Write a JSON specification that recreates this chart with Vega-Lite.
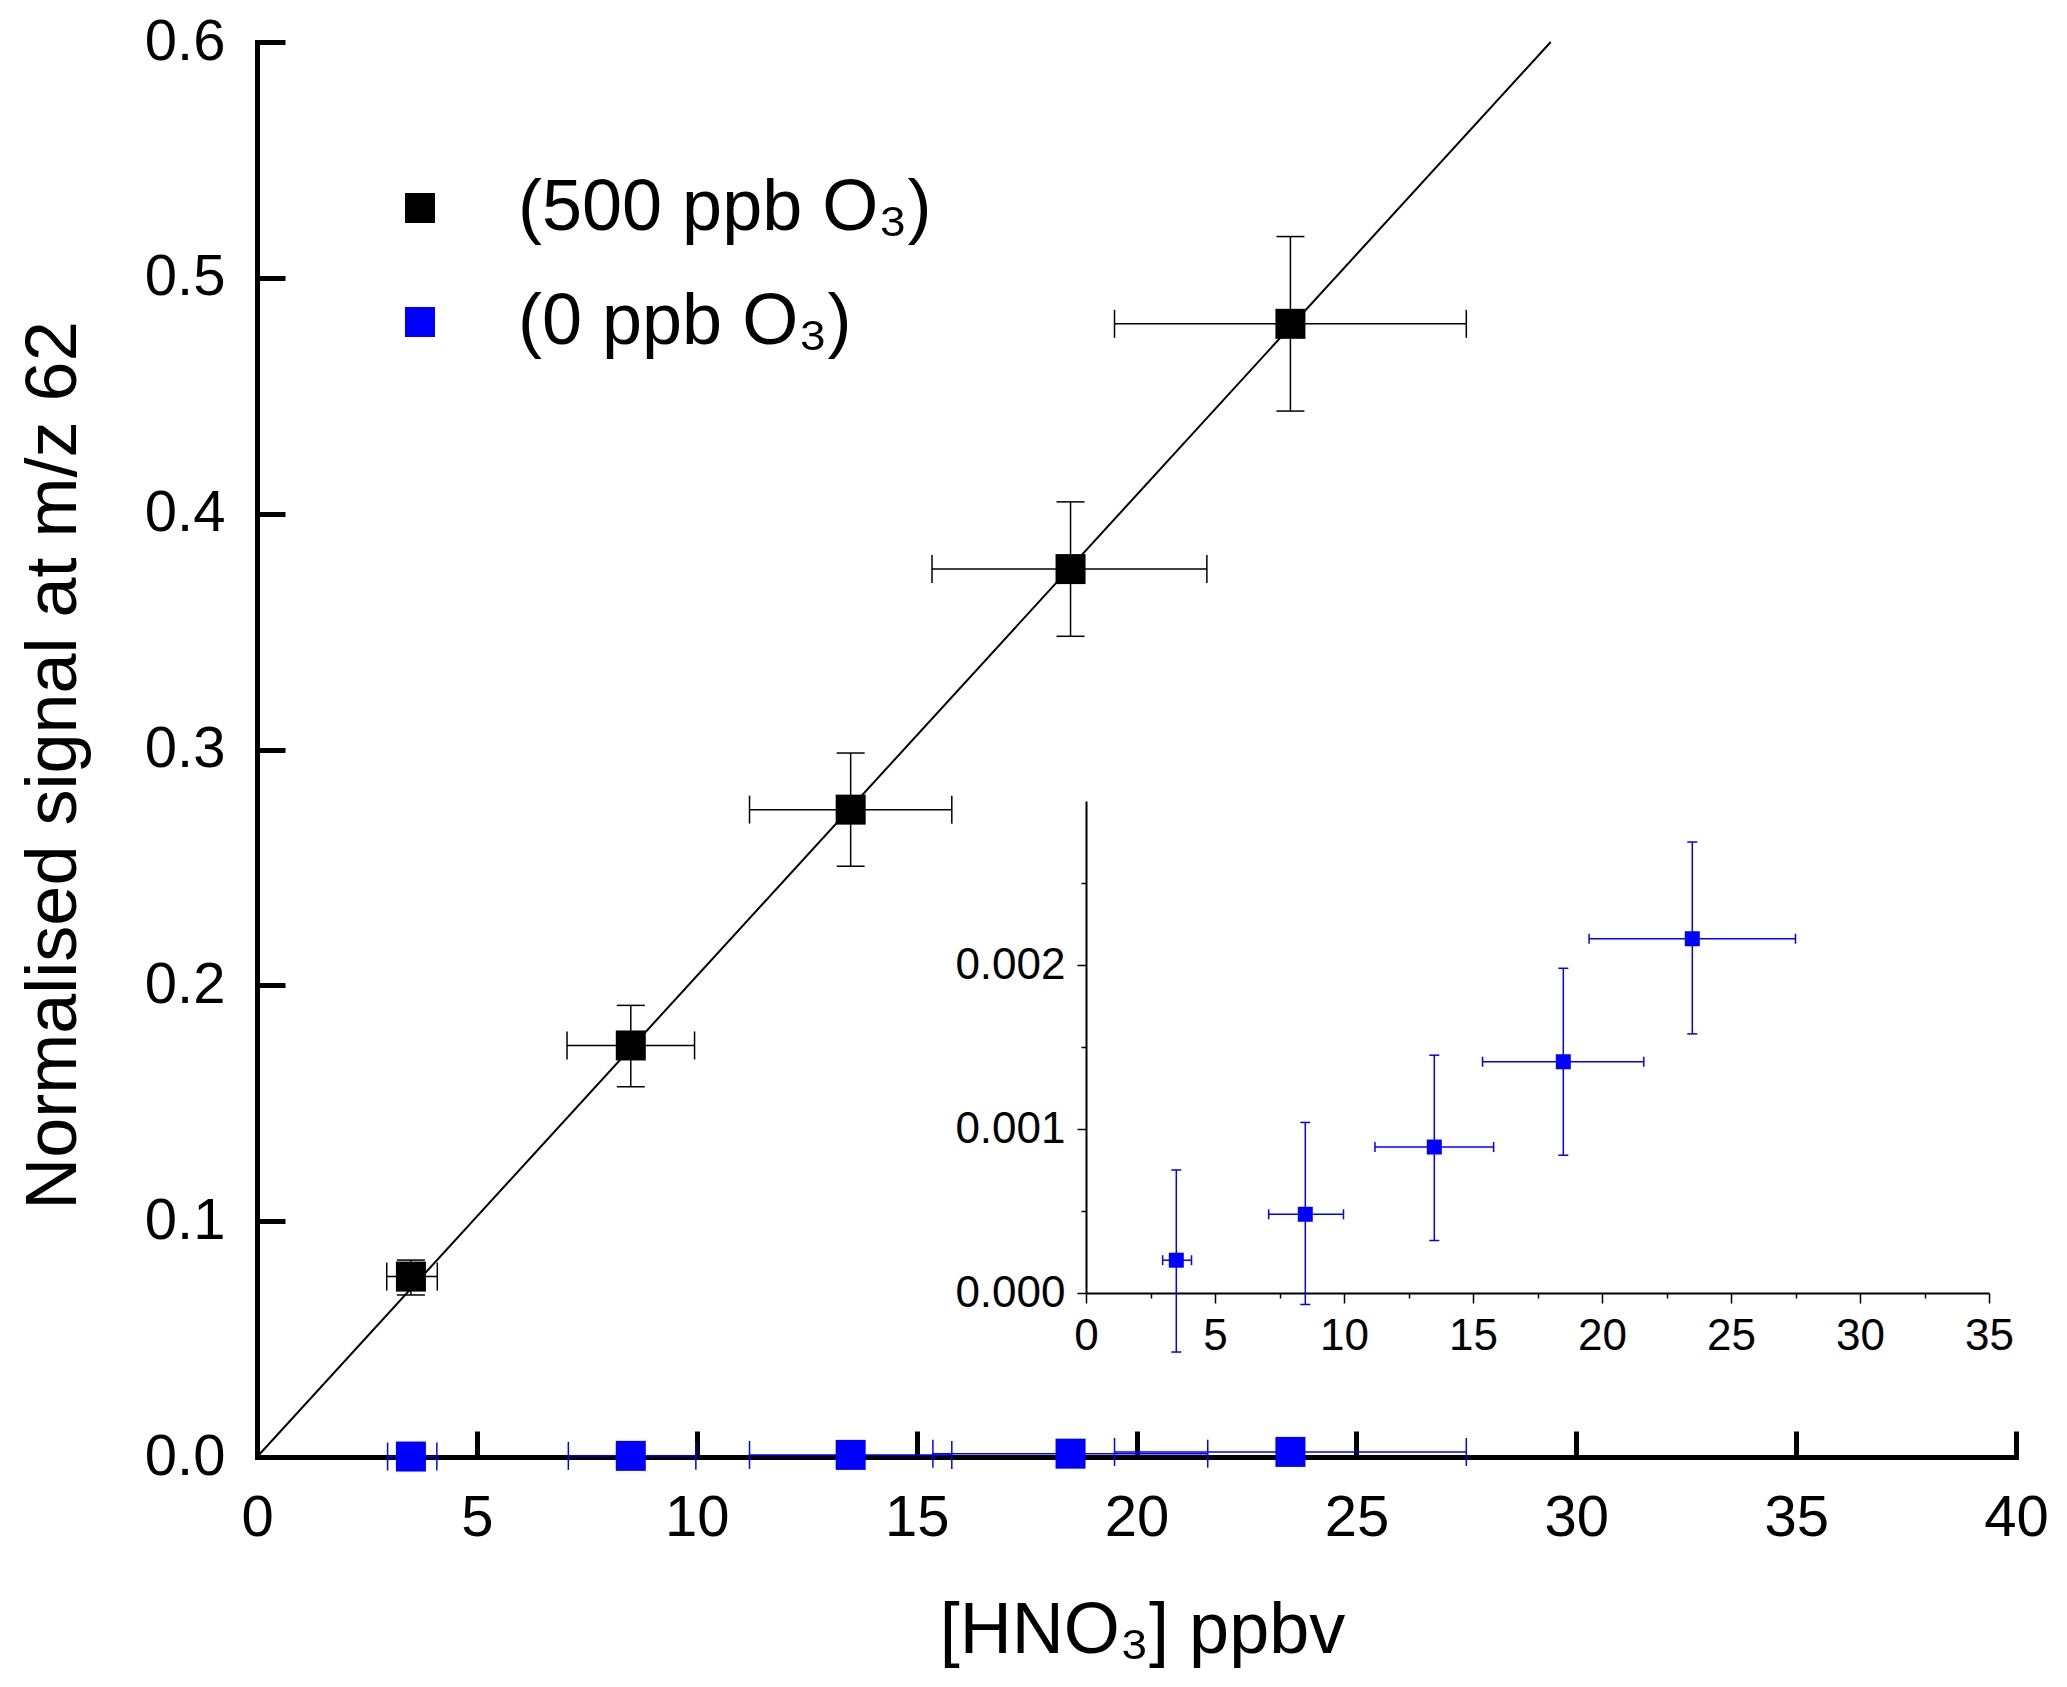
{
  "$schema": "https://vega.github.io/schema/vega-lite/v6.json",
  "description": "Normalised m/z 62 signal against HNO3 mixing ratio, with inset for the 0 ppb O3 series.",
  "width": 1759,
  "height": 1415,
  "autosize": {"type": "none"},
  "padding": {"left": 257, "top": 42, "right": 51, "bottom": 230},
  "background": "white",
  "config": {
    "font": "Liberation Sans",
    "view": {"stroke": null},
    "axis": {
      "grid": false,
      "labelFont": "Liberation Sans",
      "titleFont": "Liberation Sans",
      "labelColor": "black",
      "titleColor": "black",
      "tickColor": "black",
      "domainColor": "black",
      "titleFontWeight": "normal"
    },
    "legend": {"labelFont": "Liberation Sans", "labelColor": "black"}
  },
  "datasets": {
    "points": [
      {"series": "(500 ppb O₃)", "x": 3.5, "y": 0.0765, "xlo": 2.95, "xhi": 4.1, "ylo": 0.0687, "yhi": 0.0835},
      {"series": "(500 ppb O₃)", "x": 8.5, "y": 0.1745, "xlo": 7.05, "xhi": 9.95, "ylo": 0.157, "yhi": 0.1915},
      {"series": "(500 ppb O₃)", "x": 13.5, "y": 0.2745, "xlo": 11.2, "xhi": 15.8, "ylo": 0.2505, "yhi": 0.2985},
      {"series": "(500 ppb O₃)", "x": 18.5, "y": 0.3765, "xlo": 15.35, "xhi": 21.6, "ylo": 0.348, "yhi": 0.405},
      {"series": "(500 ppb O₃)", "x": 23.5, "y": 0.4805, "xlo": 19.5, "xhi": 27.5, "ylo": 0.4435, "yhi": 0.5175},
      {"series": "(0 ppb O₃)", "x": 3.5, "y": 0.0002, "xlo": 2.97, "xhi": 4.09, "ylo": -0.00036, "yhi": 0.00075},
      {"series": "(0 ppb O₃)", "x": 8.5, "y": 0.00048, "xlo": 7.08, "xhi": 9.98, "ylo": -0.00007, "yhi": 0.00104},
      {"series": "(0 ppb O₃)", "x": 13.5, "y": 0.00089, "xlo": 11.2, "xhi": 15.8, "ylo": 0.00032, "yhi": 0.00145},
      {"series": "(0 ppb O₃)", "x": 18.5, "y": 0.00141, "xlo": 15.37, "xhi": 21.62, "ylo": 0.00084, "yhi": 0.00198},
      {"series": "(0 ppb O₃)", "x": 23.5, "y": 0.00216, "xlo": 19.5, "xhi": 27.5, "ylo": 0.00158, "yhi": 0.00275}
    ],
    "fit": [
      {"x": 0, "y": 0},
      {"x": 29.42, "y": 0.6}
    ]
  },
  "layer": [
    {
      "layer": [
        {
          "data": {"name": "fit"},
          "mark": {"type": "line", "color": "black", "strokeWidth": 2},
          "encoding": {
            "x": {
              "field": "x", "type": "quantitative",
              "scale": {"domain": [0, 40], "nice": false, "zero": false},
              "axis": {
                "orient": "bottom",
                "values": [0, 5, 10, 15, 20, 25, 30, 35, 40],
                "format": "d",
                "labelFontSize": 58,
                "labelFlush": false,
                "labelOverlap": false,
                "tickSize": -26,
                "tickWidth": 5,
                "domainWidth": 5,
                "domainCap": "square",
                "labelPadding": 58,
                "title": "[HNO₃] ppbv",
                "titleFontSize": 72,
                "titleX": 885,
                "titleY": 195,
                "titleAlign": "center",
                "titleBaseline": "alphabetic"
              }
            },
            "y": {
              "field": "y", "type": "quantitative",
              "scale": {"domain": [0, 0.6], "nice": false, "zero": false},
              "axis": {
                "orient": "left",
                "values": [0, 0.1, 0.2, 0.3, 0.4, 0.5, 0.6],
                "format": ".1f",
                "labelFontSize": 58,
                "labelOverlap": false,
                "tickSize": -28,
                "tickWidth": 5,
                "domainWidth": 5,
                "domainCap": "square",
                "labelPadding": 60,
                "title": "Normalised signal at m/z 62",
                "titleFontSize": 72,
                "titleAngle": -90,
                "titleX": -182,
                "titleY": 723,
                "titleAlign": "center",
                "titleBaseline": "alphabetic"
              }
            }
          }
        },
        {
          "data": {"name": "points"},
          "mark": {"type": "rule", "strokeWidth": 1.5},
          "encoding": {
            "x": {"field": "xlo", "type": "quantitative"},
            "x2": {"field": "xhi"},
            "y": {"field": "y", "type": "quantitative"},
            "color": {"condition": {"test": "datum.series === '(500 ppb O₃)'", "value": "black"}, "value": "#0000ff"}
          }
        },
        {
          "data": {"name": "points"},
          "mark": {"type": "rule", "strokeWidth": 1.5},
          "encoding": {
            "x": {"field": "x", "type": "quantitative"},
            "y": {"field": "ylo", "type": "quantitative"},
            "y2": {"field": "yhi"},
            "color": {"condition": {"test": "datum.series === '(500 ppb O₃)'", "value": "black"}, "value": "#0000ff"}
          }
        },
        {
          "data": {"name": "points"},
          "transform": [{"fold": ["xlo", "xhi"], "as": ["end", "xcap"]}],
          "mark": {"type": "tick", "orient": "vertical", "size": 28, "thickness": 1.5, "opacity": 1},
          "encoding": {
            "x": {"field": "xcap", "type": "quantitative"},
            "y": {"field": "y", "type": "quantitative"},
            "color": {"condition": {"test": "datum.series === '(500 ppb O₃)'", "value": "black"}, "value": "#0000ff"}
          }
        },
        {
          "data": {"name": "points"},
          "transform": [{"fold": ["ylo", "yhi"], "as": ["end", "ycap"]}],
          "mark": {"type": "tick", "orient": "horizontal", "size": 28, "thickness": 1.5, "opacity": 1},
          "encoding": {
            "x": {"field": "x", "type": "quantitative"},
            "y": {"field": "ycap", "type": "quantitative"},
            "color": {"condition": {"test": "datum.series === '(500 ppb O₃)'", "value": "black"}, "value": "#0000ff"}
          }
        },
        {
          "data": {"name": "points"},
          "mark": {"type": "point", "shape": "square", "filled": true, "size": 900, "opacity": 1},
          "encoding": {
            "x": {"field": "x", "type": "quantitative"},
            "y": {"field": "y", "type": "quantitative"},
            "color": {
              "field": "series", "type": "nominal",
              "scale": {"domain": ["(500 ppb O₃)", "(0 ppb O₃)"], "range": ["#000000", "#0000ff"]},
              "legend": {
                "title": null,
                "orient": "none",
                "legendX": 127,
                "legendY": 130,
                "padding": 0,
                "labelFontSize": 72,
                "labelLimit": 0,
                "symbolSize": 900,
                "symbolType": "square",
                "symbolStrokeWidth": 0,
                "labelOffset": 62,
                "rowPadding": 42
              }
            }
          }
        }
      ]
    },
    {
      "data": {"name": "points"},
      "transform": [{"filter": "datum.series === '(0 ppb O₃)'"}],
      "layer": [
        {
          "mark": {"type": "rule", "strokeWidth": 1.5, "color": "#0000ff"},
          "encoding": {
            "x": {
              "field": "xlo", "type": "quantitative",
              "scale": {"domain": [0, 35], "range": [829, 1732], "nice": false, "zero": false},
              "axis": {
                "orient": "bottom",
                "offset": -164,
                "values": [0, 5, 10, 15, 20, 25, 30, 35],
                "format": "d",
                "labelFontSize": 44,
                "labelFlush": false,
                "labelOverlap": false,
                "tickSize": 10,
                "tickWidth": 1.5,
                "domainWidth": 2,
                "labelPadding": 11,
                "title": null
              }
            },
            "x2": {"field": "xhi"},
            "y": {
              "field": "y", "type": "quantitative",
              "scale": {"domain": [0, 0.003], "range": [1251, 759], "nice": false, "zero": false},
              "axis": {
                "orient": "left",
                "offset": -829,
                "values": [0, 0.001, 0.002],
                "format": ".3f",
                "labelFontSize": 44,
                "labelOverlap": false,
                "tickSize": 9,
                "tickWidth": 1.5,
                "domainWidth": 2,
                "labelPadding": 12,
                "title": null
              }
            }
          }
        },
        {
          "transform": [{"fold": ["xlo", "xhi"], "as": ["end", "xcap"]}],
          "mark": {"type": "tick", "orient": "vertical", "size": 10, "thickness": 1.5, "color": "#0000ff", "opacity": 1},
          "encoding": {
            "x": {"field": "xcap", "type": "quantitative"},
            "y": {"field": "y", "type": "quantitative"}
          }
        },
        {
          "mark": {"type": "point", "shape": "square", "filled": true, "size": 225, "color": "#0000ff", "opacity": 1},
          "encoding": {
            "x": {"field": "x", "type": "quantitative"},
            "y": {"field": "y", "type": "quantitative"}
          }
        }
      ]
    },
    {
      "data": {"name": "points"},
      "transform": [{"filter": "datum.series === '(0 ppb O₃)'"}],
      "layer": [
        {
          "mark": {"type": "rule", "strokeWidth": 1.5, "color": "#0000ff"},
          "encoding": {
            "x": {
              "field": "x", "type": "quantitative",
              "scale": {"domain": [0, 35], "range": [829, 1732], "nice": false, "zero": false},
              "axis": {
                "orient": "bottom",
                "offset": -164,
                "values": [2.5, 7.5, 12.5, 17.5, 22.5, 27.5, 32.5],
                "labels": false,
                "domain": false,
                "tickSize": 5,
                "tickWidth": 1.5,
                "title": null
              }
            },
            "y": {
              "field": "ylo", "type": "quantitative",
              "scale": {"domain": [0, 0.003], "range": [1251, 759], "nice": false, "zero": false},
              "axis": {
                "orient": "left",
                "offset": -829,
                "values": [0.0005, 0.0015, 0.0025],
                "labels": false,
                "domain": false,
                "tickSize": 5,
                "tickWidth": 1.5,
                "title": null
              }
            },
            "y2": {"field": "yhi"}
          }
        },
        {
          "transform": [{"fold": ["ylo", "yhi"], "as": ["end", "ycap"]}],
          "mark": {"type": "tick", "orient": "horizontal", "size": 10, "thickness": 1.5, "color": "#0000ff", "opacity": 1},
          "encoding": {
            "x": {"field": "x", "type": "quantitative"},
            "y": {"field": "ycap", "type": "quantitative"}
          }
        }
      ]
    }
  ],
  "resolve": {
    "scale": {"x": "independent", "y": "independent"},
    "axis": {"x": "independent", "y": "independent"}
  }
}
